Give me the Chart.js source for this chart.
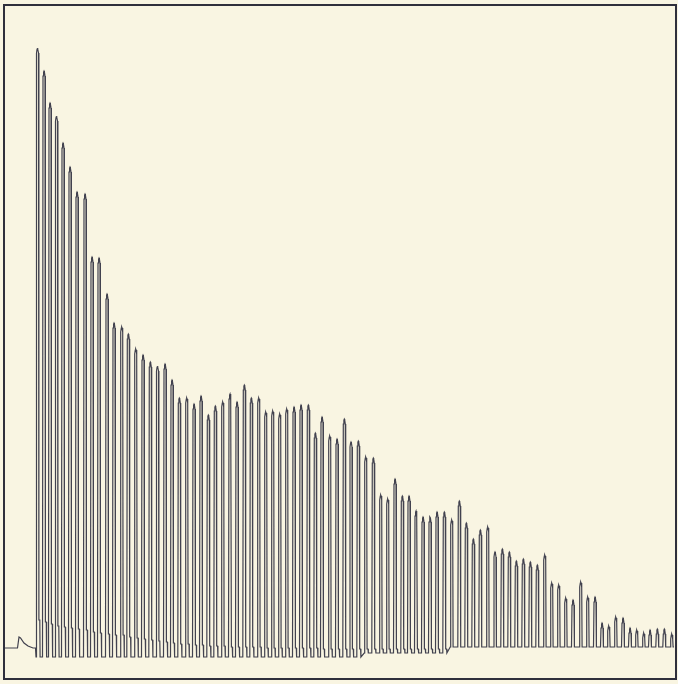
<!DOCTYPE html>
<html>
<head>
<meta charset="utf-8">
<script src="https://cdn.jsdelivr.net/npm/chart.js@4/dist/chart.umd.min.js"></script>
<style>
  html, body { margin: 0; padding: 0; background: #f9f5e2; }
  #wrap { width: 678px; height: 684px; position: relative; }
</style>
</head>
<body>
<div id="wrap"><canvas id="trace" width="678" height="684"></canvas></div>
<script>
// drum trace, x = drum travel, y = lever lift (both in px-like units)
const preTimes  = [4, 17.5, 19, 20.5, 24, 28, 33, 35.5];
const preLevels = [9, 9, 20, 19, 14, 11, 9, 9];

const twitchTimes = [
  37.5, 44, 50, 56.5, 63, 70, 77, 85, 92, 99,
  107, 114, 121.7, 128.3, 135.7, 143, 150.3, 157.5, 165, 172,
  179.3, 186.7, 194, 201, 208.3, 215.3, 222.7, 230, 237, 244.3,
  251.3, 258.7, 265.7, 272.7, 279.7, 286.7, 294, 301, 308.3, 315.3,
  322, 329.7, 337, 344.3, 351, 358.3, 365.7, 373.3, 380.7, 387.7,
  395, 402.3, 409, 416, 423, 430, 437, 444.3, 451.7, 459.3,
  466.3, 473.3, 480.3, 487.7, 495, 502.3, 509.3, 516.3, 523.3, 530.3,
  537.3, 544.7, 551.7, 558.7, 565.7, 573, 580.7, 587.7, 595, 602,
  608.7, 615.7, 623, 630, 636.7, 643.7, 650, 657.3, 664.3, 671.7
];

const peaks = [
  609, 586, 554, 541, 514, 490, 465, 463, 400, 399,
  363, 334, 330, 323, 308, 302, 295, 291, 293, 277,
  259, 259, 253, 261, 242, 251, 255, 263, 255, 272,
  259, 259, 245, 246, 243, 248, 250, 252, 252, 224,
  240, 221, 218, 238, 215, 216, 200, 199, 162, 158,
  178, 161, 161, 146, 140, 140, 145, 145, 137, 156,
  134, 118, 127, 130, 105, 108, 105, 96, 98, 95,
  92, 102, 74, 72, 59, 57, 75, 60, 60, 34,
  31, 40, 39, 29, 27, 24, 27, 28, 28, 23
];

// level where the fall slows (contracture)
const shoulders = [
  37, 35, 33, 31, 30, 29, 28, 27, 25, 24,
  23, 22, 22, 20, 19, 18, 17, 16, 15, 14,
  13, 13, 12, 12, 11, 11, 11, 10, 10, 10,
  10, 10, 9, 9, 9, 9, 9, 9, 9, 9,
  8, 8, 8, 8, 8, 8, 8, 8, 8, 8,
  8, 8, 8, 8, 8, 8, 8, 8, 10, 10,
  10, 10, 10, 10, 10, 10, 10, 10, 10, 10,
  10, 10, 10, 10, 10, 10, 10, 10, 10, 10,
  10, 10, 10, 10, 10, 10, 10, 10, 10, 10
];

// foot of each stroke
const bases = [
  0, 0, 0, 0, 0, 0, 0, 0, 0, 0,
  0, 0, 0, 0, 0, 0, 0, 0, 0, 0,
  0, 0, 0, 0, 0, 0, 0, 0, 0, 0,
  0, 0, 0, 0, 0, 0, 0, 0, 0, 0,
  0, 0, 0, 0, 0, 0, 4, 4, 4, 4,
  4, 4, 4, 4, 4, 4, 4, 4, 10, 10,
  10, 10, 10, 10, 10, 10, 10, 10, 10, 10,
  10, 10, 10, 10, 10, 10, 10, 10, 10, 10,
  10, 10, 10, 10, 10, 10, 10, 10, 10, 10
];

function buildTrace() {
  const pts = preTimes.map((t, i) => ({ x: t, y: preLevels[i] }));
  twitchTimes.forEach((t, i) => {
    pts.push({ x: t - 1.5, y: bases[i] });
    pts.push({ x: t - 1.0, y: peaks[i] - 5 });
    pts.push({ x: t - 0.4, y: peaks[i] - 1 });
    pts.push({ x: t, y: peaks[i] });
    pts.push({ x: t + 0.4, y: peaks[i] - 1 });
    pts.push({ x: t + 1.0, y: peaks[i] - 5 });
    pts.push({ x: t + 1.4, y: shoulders[i] });
    pts.push({ x: t + 2.3, y: shoulders[i] });
    pts.push({ x: t + 2.6, y: bases[i] });
  });
  return pts;
}

const framePlugin = {
  id: 'frame',
  beforeDraw(chart) {
    const ctx = chart.ctx;
    ctx.save();
    ctx.fillStyle = '#f9f5e2';
    ctx.fillRect(0, 0, chart.width, chart.height);
    ctx.restore();
  },
  afterDraw(chart) {
    const ctx = chart.ctx;
    ctx.save();
    ctx.strokeStyle = '#2f2f3c';
    ctx.lineWidth = 2;
    ctx.strokeRect(4, 5, 672, 674);
    ctx.restore();
  }
};

new Chart(document.getElementById('trace'), {
  type: 'scatter',
  data: {
    datasets: [{
      data: buildTrace(),
      showLine: true,
      borderColor: '#42424f',
      borderWidth: 1.2,
      pointRadius: 0,
      tension: 0
    }]
  },
  options: {
    responsive: false,
    animation: false,
    devicePixelRatio: 1,
    layout: { padding: 0 },
    plugins: { legend: { display: false }, tooltip: { enabled: false } },
    scales: {
      x: { type: 'linear', min: 0, max: 678, display: false },
      y: { type: 'linear', min: -27, max: 657, display: false }
    }
  },
  plugins: [framePlugin]
});
</script>
</body>
</html>
